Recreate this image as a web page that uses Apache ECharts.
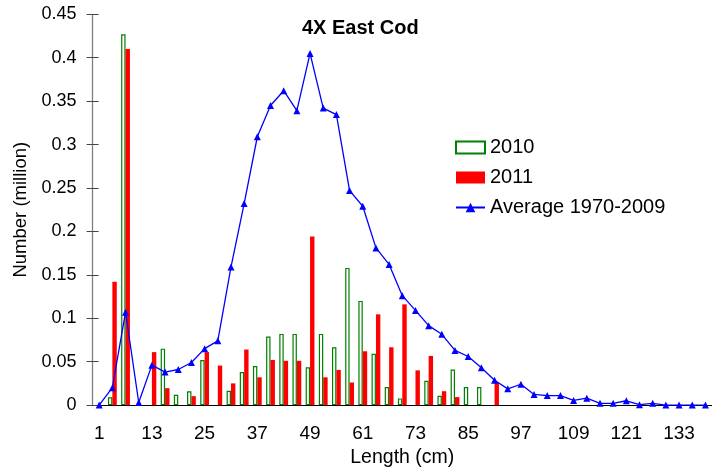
<!DOCTYPE html>
<html>
<head>
<meta charset="utf-8">
<script src="https://cdn.jsdelivr.net/npm/echarts@6/dist/echarts.min.js"></script>
<style>
  html, body { margin: 0; padding: 0; background: #fff; }
  #chart { width: 712px; height: 473px; }
</style>
</head>
<body>
<div id="chart"></div>
<script>
// length classes (cm)
const lengths = [1, 4, 7, 10, 13, 16, 19, 22, 25, 28, 31, 34, 37, 40, 43, 46, 49, 52, 55, 58,
  61, 64, 67, 70, 73, 76, 79, 82, 85, 88, 91, 94, 97, 100, 103, 106, 109, 112, 115, 118,
  121, 124, 127, 130, 133, 136, 139];

const yr2010 = [0, 0.009, 0.427, 0, 0, 0.065, 0.012, 0.016, 0.052, 0, 0.0165, 0.038, 0.045, 0.079, 0.082, 0.082, 0.0436, 0.082, 0.0666, 0.158,
  0.12, 0.059, 0.0207, 0.0077, 0, 0.028, 0.0107, 0.041, 0.0207, 0.0207, 0, 0, 0, 0, 0, 0, 0, 0, 0, 0,
  0, 0, 0, 0, 0, 0, 0];

const yr2011 = [0, 0.142, 0.41, 0, 0.061, 0.0195, 0, 0.0103, 0.061, 0.0455, 0.025, 0.064, 0.032, 0.052, 0.051, 0.051, 0.194, 0.032, 0.0405, 0.026,
  0.062, 0.1045, 0.0666, 0.116, 0.04, 0.0566, 0.016, 0.0092, 0, 0, 0.026, 0, 0, 0, 0, 0, 0, 0, 0, 0,
  0, 0, 0, 0, 0, 0, 0];

const avg7009 = [0, 0.02, 0.107, 0.003, 0.046, 0.038, 0.041, 0.049, 0.065, 0.074, 0.159, 0.232, 0.309, 0.345, 0.362, 0.339, 0.405, 0.342, 0.3345, 0.247,
  0.229, 0.181, 0.162, 0.126, 0.109, 0.0915, 0.0815, 0.063, 0.056, 0.043, 0.0287, 0.0187, 0.024, 0.0123, 0.011, 0.011, 0.0054, 0.008, 0.002, 0.002,
  0.005, 0.0005, 0.002, 0, 0, 0, 0];

const FONT = 'Liberation Sans';

const chart = echarts.init(document.getElementById('chart'));

chart.setOption({
  animation: false,
  textStyle: { fontFamily: FONT },
  title: {
    text: '4X East Cod',
    left: 302,
    top: 18,
    padding: 0,
    textStyle: { fontFamily: FONT, fontSize: 20, fontWeight: 'bold', color: '#000' }
  },
  legend: {
    orient: 'vertical',
    left: 455,
    top: 137.5,
    padding: 0,
    itemWidth: 29,
    itemHeight: 12,
    itemGap: 10,
    textStyle: { fontFamily: FONT, fontSize: 20, color: '#000', lineHeight: 20 },
    data: [
      { name: '2010', icon: 'rect' },
      { name: '2011', icon: 'rect' },
      { name: 'Average 1970-2009' }
    ]
  },
  grid: { left: 92.6, right: -3, top: 14.3, bottom: 66.3 },
  xAxis: [
    {
      type: 'category',
      data: lengths,
      name: 'Length (cm)',
      nameLocation: 'middle',
      nameGap: 40,
      nameTextStyle: { fontFamily: FONT, fontSize: 19.5, color: '#000' },
      axisLine: { lineStyle: { color: '#000', width: 1 } },
      axisTick: { interval: 0, length: 5, lineStyle: { color: '#333' } },
      axisLabel: { interval: 3, margin: 19, fontFamily: FONT, fontSize: 19, color: '#000' }
    },
    {
      // inner half of the crossing ticks
      type: 'category',
      data: lengths,
      position: 'bottom',
      axisLine: { show: false },
      axisTick: { inside: true, interval: 0, length: 5, lineStyle: { color: '#333' } },
      axisLabel: { show: false }
    }
  ],
  yAxis: [
    {
      type: 'value',
      min: 0,
      max: 0.45,
      interval: 0.05,
      name: 'Number (million)',
      nameLocation: 'middle',
      nameGap: 62,
      nameTextStyle: { fontFamily: FONT, fontSize: 18.5, color: '#000' },
      axisLine: { show: true, lineStyle: { color: '#808080', width: 1.3 } },
      axisTick: { show: true, length: 6, lineStyle: { color: '#444' } },
      axisLabel: { margin: 16, fontFamily: FONT, fontSize: 18, color: '#000' },
      splitLine: { show: false }
    },
    {
      type: 'value',
      min: 0,
      max: 0.45,
      interval: 0.05,
      position: 'left',
      axisLine: { show: false },
      axisTick: { show: true, inside: true, length: 6, lineStyle: { color: '#444' } },
      axisLabel: { show: false },
      splitLine: { show: false }
    }
  ],
  series: [
    {
      name: '2010',
      type: 'bar',
      barWidth: 4.4,
      barGap: '0%',
      data: yr2010.map(v => (v === 0 ? null : v)),
      itemStyle: { color: '#fff', borderColor: '#008000', borderWidth: 1.2 }
    },
    {
      name: '2011',
      type: 'bar',
      barWidth: 4.4,
      data: yr2011.map(v => (v === 0 ? null : v)),
      itemStyle: { color: '#ff0000' }
    },
    {
      name: 'Average 1970-2009',
      type: 'line',
      data: avg7009,
      symbol: 'triangle',
      symbolSize: 7,
      z: 5,
      lineStyle: { color: '#0000ff', width: 1.3 },
      itemStyle: { color: '#0000ff' }
    }
  ]
});
</script>
</body>
</html>
